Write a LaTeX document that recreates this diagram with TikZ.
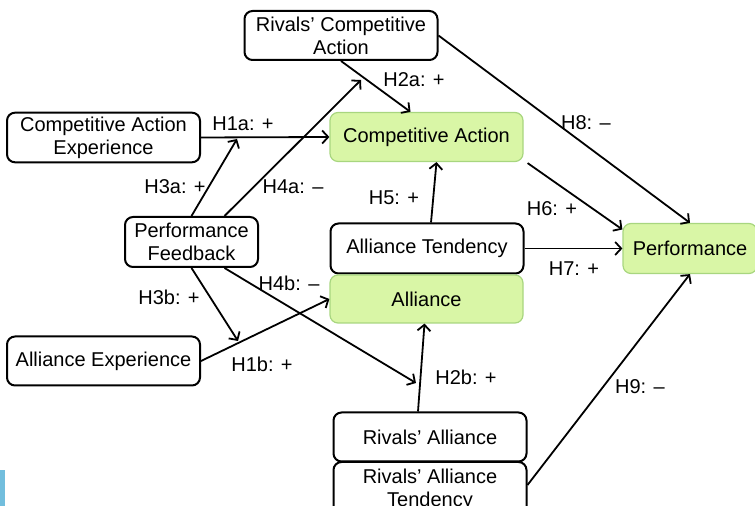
\documentclass[tikz,border=0pt]{standalone}
\usepackage{fontspec}
\setmainfont{Liberation Sans}
\usetikzlibrary{positioning,arrows.meta,calc}
\definecolor{boxgreen}{HTML}{D9F6A6}
\definecolor{boxgreenline}{HTML}{A8D67F}
\definecolor{tabblue}{HTML}{72BEDD}

\begin{document}
\begin{tikzpicture}[x=0.5pt, y=-0.5pt, font=\fontsize{10}{11.5}\selectfont,
  var/.style={draw, line width=1pt, rounded corners=4pt, align=center, inner sep=2pt,
    minimum width=96.5pt, minimum height=24.5pt},
  dv/.style={var, draw=boxgreenline, fill=boxgreen, line width=0.6pt},
  hpath/.style={-{Straight Barb[length=3pt,width=6.5pt]}, line width=0.9pt},
  hyp/.style={inner sep=1pt}]
% one px of the sketch = one unit; y runs downwards
\useasboundingbox (0,0) rectangle (755,506);
\fill[tabblue] (0,470) rectangle (5,506);

% constructs
\node[var] (rca) at (341,35.5) {Rivals’ Competitive\\Action};
\node[var] (cae) at (103.5,137.5) {Competitive Action\\Experience};
\node[dv] (ca) at (426.5,137) {Competitive Action};
\node[var, minimum width=66.5pt, minimum height=25pt] (pf) at (191.5,242) {Performance\\Feedback};
\node[var, minimum height=25pt] (at) at (427,248.5) {Alliance Tendency};
\node[dv, minimum height=24pt] (al) at (426.5,299) {Alliance};
\node[var] (ae) at (103.5,361) {Alliance Experience};
\node[dv, minimum width=67pt, minimum height=25pt] (perf) at (690,248.5) {Performance};
\node[var] (ra) at (430,437) {Rivals’ Alliance};
\node[var, minimum height=28pt] (rat) at (430,490) {Rivals’ Alliance\\Tendency};

% moderation targets
\coordinate (h1aMid) at (237,139);
\coordinate (h4aEnd) at (361,80);
\coordinate (h1bMid) at (238,341);
\coordinate (h4bEnd) at (416,383);

% paths
\draw[hpath] (cae.east) -- (ca.west);
\draw[hpath] (pf.north) -- (h1aMid);
\draw[hpath] ($(pf.north)+(33,0)$) -- (h4aEnd);
\draw[hpath] (rca.south) -- ($(ca.north)+(-16,0)$);
\draw[hpath] (rca.east) -- (perf.north);
\draw[hpath] ($(ca.south east)+(4,1)$) -- ($(perf.west)+(0,-19)$);
\draw[hpath] ($(at.north)+(4,0)$) -- ($(ca.south)+(10,0)$);
\draw[hpath] (at.east) -- (perf.west);
\draw[hpath] (pf.south) -- (h1bMid);
\draw[hpath] (ae.east) -- (al.west);
\draw[hpath] ($(pf.south)+(33,0)$) -- (h4bEnd);
\draw[hpath] ($(ra.north)+(-12,0)$) -- ($(al.south)+(-2,0)$);
\draw[hpath] ($(rat.east)+(0,-5)$) -- (perf.south);

% hypothesis labels
\node[hyp] (lH1a) at (243,124) {H1a: +};
\node[hyp] (lH3a) at (175,187) {H3a: +};
\node[hyp] (lH4a) at (293,187) {H4a: –};
\node[hyp] (lH2a) at (414,80) {H2a: +};
\node[hyp] (lH8) at (586,123) {H8: –};
\node[hyp] (lH5) at (394,198) {H5: +};
\node[hyp] (lH6) at (552,209) {H6: +};
\node[hyp] (lH7) at (574,269) {H7: +};
\node[hyp] (lH3b) at (169,297) {H3b: +};
\node[hyp] (lH4b) at (289,283) {H4b: –};
\node[hyp] (lH1b) at (262,364) {H1b: +};
\node[hyp] (lH2b) at (466,377) {H2b: +};
\node[hyp] (lH9) at (640,387) {H9: –};
\end{tikzpicture}
\end{document}
